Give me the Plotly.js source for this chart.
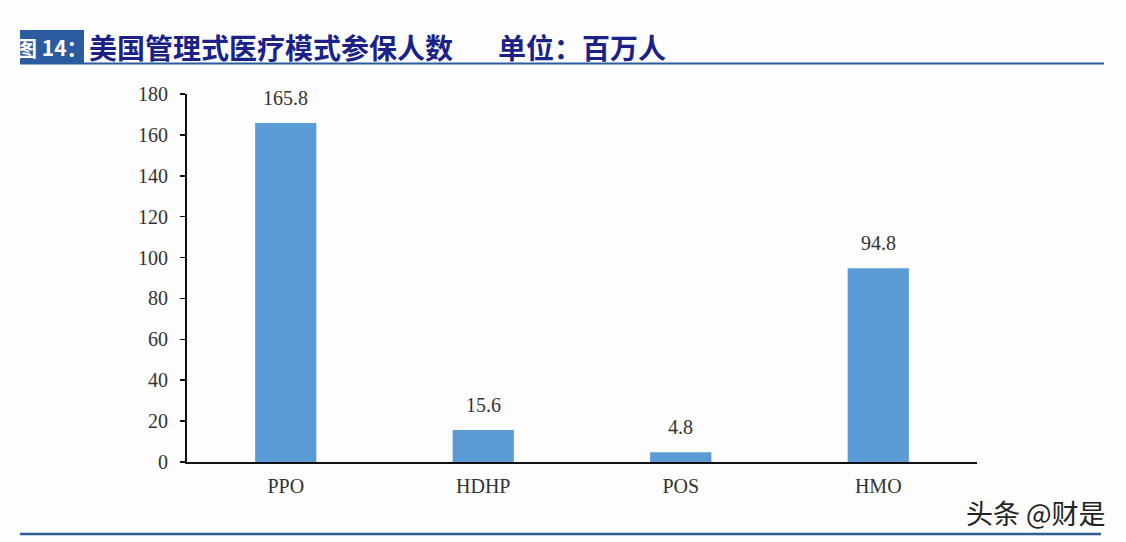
<!DOCTYPE html>
<html><head><meta charset="utf-8">
<script src="https://cdn.plot.ly/plotly-3.0.1.min.js"></script>
<style>html,body{margin:0;padding:0;background:#fff}#c{width:1126px;height:542px}</style>
</head><body><div id="c"></div>
<script>
const categories = ['PPO','HDHP','POS','HMO'];
const enrollees = [165.8, 15.6, 4.8, 94.8];
const yTicks = [0,20,40,60,80,100,120,140,160,180];

const L=187, R=977, T=94, B=462;
const px = x => (x-L)/(R-L);
const py = y => (B-y)/(B-T);

const serif = 'Liberation Serif, Times New Roman, serif';
const cjk = 'Noto Sans CJK SC, sans-serif';

const data = [{
  type:'bar', x:categories, y:enrollees,
  marker:{color:'#5b9bd5'}, hoverinfo:'none'
}];

const valueLabels = categories.map((c,i)=>({
  x:c, y:enrollees[i], xref:'x', yref:'y', text:enrollees[i].toFixed(1),
  showarrow:false, xanchor:'center', yanchor:'bottom', yshift:12,
  font:{family:serif, size:20, color:'#333'}
}));

const layout = {
  width:1126, height:542,
  margin:{l:L, r:1126-R, t:T, b:542-B},
  paper_bgcolor:'#fdfdfd', plot_bgcolor:'#fdfdfd',
  bargap:0.69, showlegend:false,
  xaxis:{showline:true, linecolor:'#111', linewidth:2, ticks:'',
    tickfont:{family:serif,size:20,color:'#333'}, ticklabelstandoff:5, fixedrange:true},
  yaxis:{range:[0,180], tickvals:yTicks, showgrid:false, zeroline:false,
    showline:true, linecolor:'#111', linewidth:2, ticks:'outside', ticklen:5, tickwidth:1.5, tickcolor:'#111',
    tickfont:{family:serif,size:20,color:'#333'}, ticklabelstandoff:8, fixedrange:true},
  shapes:[
    {type:'rect', xref:'paper', yref:'paper', x0:px(20), x1:px(84), y0:py(30), y1:py(63), fillcolor:'#2b5c9f', line:{width:0}},
    {type:'line', xref:'paper', yref:'paper', x0:px(20), x1:px(1104), y0:py(63.5), y1:py(63.5), line:{color:'#2b5c9f', width:2}},
    {type:'line', xref:'paper', yref:'paper', x0:px(20), x1:px(1101), y0:py(534), y1:py(534), line:{color:'#2e5f8f', width:2.5}}
  ],
  annotations: valueLabels.concat([
    {xref:'paper', yref:'paper', x:px(52), y:py(47), text:'<b>图 14：</b>', showarrow:false, xanchor:'center', yanchor:'middle',
      font:{family:cjk, size:21, color:'#fff'}},
    {xref:'paper', yref:'paper', x:px(87), y:py(47), text:'<b>美国管理式医疗模式参保人数</b>', showarrow:false, xanchor:'left', yanchor:'middle',
      font:{family:cjk, size:28, color:'#1a2288'}},
    {xref:'paper', yref:'paper', x:px(496), y:py(47), text:'<b>单位：百万人</b>', showarrow:false, xanchor:'left', yanchor:'middle',
      font:{family:cjk, size:28, color:'#1a2288'}},
    {xref:'paper', yref:'paper', x:px(1108), y:py(512), text:'头条 @财是', showarrow:false, xanchor:'right', yanchor:'middle',
      font:{family:cjk, size:27, color:'#222'}}
  ])
};
Plotly.newPlot('c', data, layout, {displayModeBar:false, staticPlot:true});
</script></body></html>
